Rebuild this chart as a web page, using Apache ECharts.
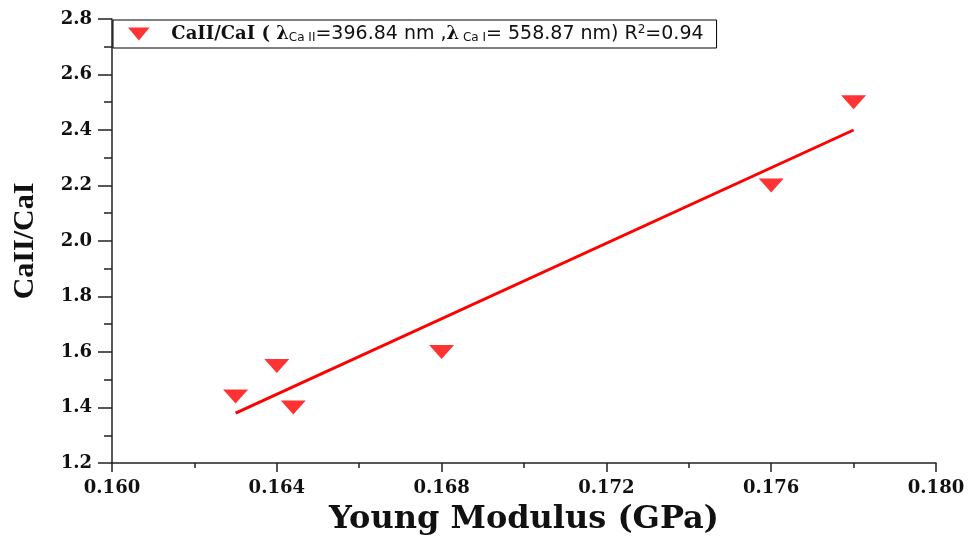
<!DOCTYPE html>
<html>
<head>
<meta charset="utf-8">
<script src="https://cdn.jsdelivr.net/npm/echarts@6/dist/echarts.min.js"></script>
<style>
  html, body { margin: 0; padding: 0; background: #fff; }
  #chart { width: 968px; height: 543px; }
</style>
</head>
<body>
<div id="chart"></div>
<script>
// measured points (Young modulus in GPa vs CaII/CaI line ratio)
const youngModulus = [0.163, 0.164, 0.1644, 0.168, 0.176, 0.178]
const caRatio = [1.44, 1.55, 1.40, 1.60, 2.20, 2.50]

// linear fit end points
const fitX = [0.163, 0.178]
const fitY = [1.38, 2.40]

const xRange = [0.160, 0.180, 0.004]
const yRange = [1.2, 2.8, 0.2]

const serif = 'DejaVu Serif'
const sans = 'DejaVu Sans'
const downTriangle = 'path://M0,0L10,0L5,6Z'

const chart = echarts.init(document.getElementById('chart'), null, { renderer: 'canvas' })

chart.setOption({
  backgroundColor: '#fff',
  animation: false,
  grid: { left: 112, right: 32, top: 19, bottom: 80 },
  legend: {
    data: ['CaII/CaI'],
    left: 113,
    top: 20,
    padding: [4, 13, 4, 15],
    borderColor: '#000',
    borderWidth: 1,
    icon: downTriangle,
    itemWidth: 23,
    itemHeight: 13,
    itemStyle: { opacity: 1 },
    formatter: () =>
      '{b|CaII/CaI ( λ}{sub|Ca II}{s|=396.84 nm ,}{b|λ}{sub| Ca I}{s|= 558.87 nm) R}{sup|2}{s|=0.94}',
    textStyle: {
      padding: [0, 0, 0, 16],
      rich: {
        b: { fontFamily: serif, fontWeight: 'bold', fontSize: 18, color: '#111', lineHeight: 20 },
        s: { fontFamily: sans, fontSize: 19, color: '#111', lineHeight: 20 },
        sub: { fontFamily: sans, fontSize: 12, color: '#111', lineHeight: 9, verticalAlign: 'bottom' },
        sup: { fontFamily: sans, fontSize: 12, color: '#111', lineHeight: 9, verticalAlign: 'top' }
      }
    }
  },
  xAxis: {
    type: 'value',
    min: xRange[0],
    max: xRange[1],
    interval: xRange[2],
    name: 'Young Modulus (GPa)',
    nameLocation: 'middle',
    nameGap: 41,
    nameTextStyle: { fontFamily: serif, fontWeight: 'bold', fontSize: 32, color: '#111' },
    axisLine: { lineStyle: { color: '#222', width: 1.5 } },
    axisTick: { inside: false, length: 9, lineStyle: { color: '#222', width: 1.5 } },
    minorTick: { show: true, splitNumber: 2, length: 5, lineStyle: { color: '#222', width: 1.5 } },
    axisLabel: {
      margin: 16,
      fontFamily: serif,
      fontWeight: 'bold',
      fontSize: 18,
      color: '#111',
      formatter: (v) => v.toFixed(3)
    },
    splitLine: { show: false }
  },
  yAxis: {
    type: 'value',
    min: yRange[0],
    max: yRange[1],
    interval: yRange[2],
    name: 'CaII/CaI',
    nameLocation: 'middle',
    nameGap: 72,
    nameTextStyle: { fontFamily: 'Liberation Serif', fontWeight: 'bold', fontSize: 30, color: '#111' },
    axisLine: { show: true, lineStyle: { color: '#222', width: 1.5 } },
    axisTick: { show: true, inside: false, length: 14, lineStyle: { color: '#222', width: 1.5 } },
    minorTick: { show: true, splitNumber: 2, length: 8, lineStyle: { color: '#222', width: 1.5 } },
    axisLabel: {
      margin: 20,
      fontFamily: serif,
      fontWeight: 'bold',
      fontSize: 18,
      color: '#111',
      formatter: (v) => v.toFixed(1)
    },
    splitLine: { show: false }
  },
  series: [
    {
      name: 'CaII/CaI',
      type: 'scatter',
      data: youngModulus.map((x, i) => [x, caRatio[i]]),
      symbol: downTriangle,
      symbolSize: [25, 14],
      itemStyle: { color: '#ff3333', opacity: 1 },
      z: 3
    },
    {
      name: 'fit',
      type: 'line',
      data: fitX.map((x, i) => [x, fitY[i]]),
      symbol: 'none',
      lineStyle: { color: '#ff0000', width: 3 },
      z: 2
    }
  ]
})
</script>
</body>
</html>
